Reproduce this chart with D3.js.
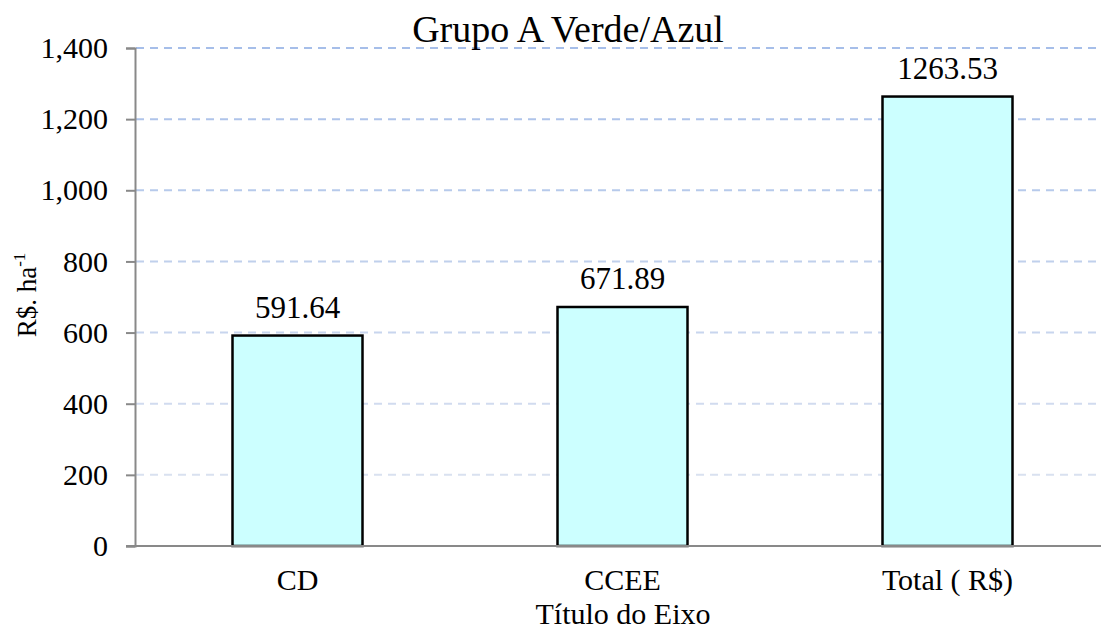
<!DOCTYPE html>
<html><head><meta charset="utf-8">
<script src="https://cdn.jsdelivr.net/npm/d3@7"></script>
<style>body{margin:0;background:#fff}svg text{font-family:"Liberation Serif","Times New Roman","DejaVu Serif",serif !important}</style>
</head><body><svg id="c" width="1101" height="630"></svg>
<script>
const categories = ["CD", "CCEE", "Total ( R$)"];
const values = [591.64, 671.89, 1263.53];
const labels = ["591.64", "671.89", "1263.53"];
const yTicks = [0, 200, 400, 600, 800, 1000, 1200, 1400];

const svg = d3.select("#c");
const x = d3.scaleBand().domain(categories).range([135, 1110]).paddingInner(0.6).paddingOuter(0.3);
const y = d3.scaleLinear().domain([0, 1400]).range([546, 48]);
const gridColor = d3.scaleLinear().domain([0, 1400]).range(["#e2e7f1", "#a6bee9"]);

// gridlines
svg.append("g").selectAll("line").data(yTicks.filter(d => d > 0)).join("line")
  .attr("x1", 136).attr("x2", 1097).attr("y1", d => y(d)).attr("y2", d => y(d))
  .attr("stroke", d => gridColor(d)).attr("stroke-width", 2).attr("stroke-dasharray", "8,6");

// bars
svg.append("g").selectAll("rect").data(values).join("rect")
  .attr("x", (d, i) => x(categories[i])).attr("width", x.bandwidth())
  .attr("y", d => y(d)).attr("height", d => y(0) - y(d))
  .attr("fill", "#ccffff").attr("stroke", "#000").attr("stroke-width", 2.5);

// y axis
const ya = svg.append("g").attr("transform", "translate(135,0)")
  .call(d3.axisLeft(y).tickValues(yTicks).tickSize(9).tickPadding(18).tickFormat(d3.format(",")));
ya.attr("font-family", null);
ya.select(".domain").attr("stroke", "#898989").attr("stroke-width", 2);
ya.selectAll(".tick line").attr("stroke", "#898989").attr("stroke-width", 2);
ya.selectAll(".tick text").attr("font-size", 30).attr("fill", "#000");

// x axis line
svg.append("line").attr("x1", 126).attr("x2", 1101).attr("y1", y(0)).attr("y2", y(0))
  .attr("stroke", "#898989").attr("stroke-width", 2);

// category labels
svg.append("g").selectAll("text").data(categories).join("text")
  .attr("x", d => x(d) + x.bandwidth() / 2).attr("y", 590)
  .attr("text-anchor", "middle").attr("font-size", 30).text(d => d);

// value labels
svg.append("g").selectAll("text").data(values).join("text")
  .attr("x", (d, i) => x(categories[i]) + x.bandwidth() / 2).attr("y", d => y(d) - 18)
  .attr("text-anchor", "middle").attr("font-size", 31).text((d, i) => labels[i]);

// title
svg.append("text").attr("x", 568).attr("y", 42).attr("text-anchor", "middle")
  .attr("font-size", 38).text("Grupo A Verde/Azul");

// x axis title
svg.append("text").attr("x", 623).attr("y", 624).attr("text-anchor", "middle")
  .attr("font-size", 30).text("Título do Eixo");

// y axis title
const yt = svg.append("text").attr("transform", "translate(36,295) rotate(-90)")
  .attr("text-anchor", "middle").attr("font-size", 27);
yt.append("tspan").text("R$. ha");
yt.append("tspan").attr("font-size", 17).attr("dy", -11).text("-1");
</script></body></html>
